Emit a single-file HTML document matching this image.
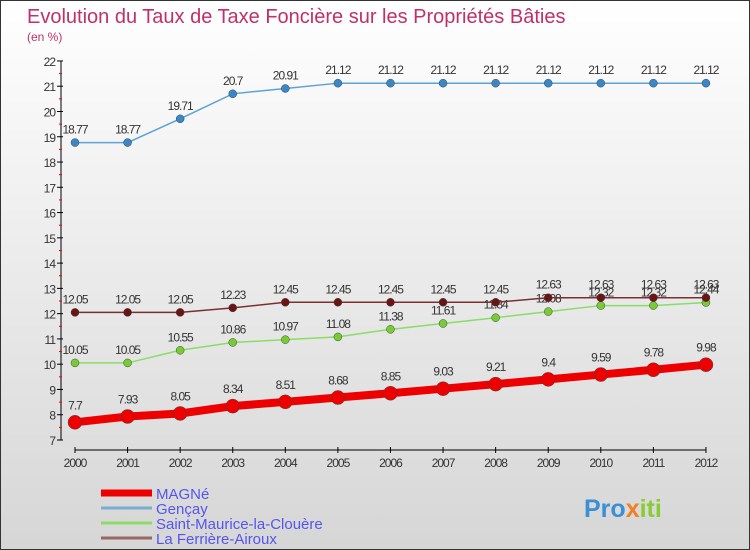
<!DOCTYPE html>
<html><head><meta charset="utf-8"><style>
body{margin:0;}
#c{width:748px;height:548px;border:1px solid #333;background:linear-gradient(#ffffff,#d6d6d6);position:relative;font-family:"Liberation Sans",sans-serif;overflow:hidden}
</style></head><body>
<div id="c">
<svg id="s" width="748" height="548"></svg>
</div>
<script>
const years=[2000,2001,2002,2003,2004,2005,2006,2007,2008,2009,2010,2011,2012];
const magne=[7.7,7.93,8.05,8.34,8.51,8.68,8.85,9.03,9.21,9.4,9.59,9.78,9.98];
const gencay=[18.77,18.77,19.71,20.7,20.91,21.12,21.12,21.12,21.12,21.12,21.12,21.12,21.12];
const stMaurice=[10.05,10.05,10.55,10.86,10.97,11.08,11.38,11.61,11.84,12.08,12.32,12.32,12.44];
const ferriere=[12.05,12.05,12.05,12.23,12.45,12.45,12.45,12.45,12.45,12.63,12.63,12.63,12.63];
const yTicks=[7,8,9,10,11,12,13,14,15,16,17,18,19,20,21,22];
const NS="http://www.w3.org/2000/svg";
const s=document.getElementById('s');
const X=i=>74+i*52.58;
const Y=v=>439-(v-7)*25.27;
function el(t,a,txt,parent){const e=document.createElementNS(NS,t);for(const k in a)e.setAttribute(k,a[k]);if(txt!==undefined)e.textContent=txt;(parent||s).appendChild(e);return e;}
let t=el('text',{x:26,y:22,'font-size':20,fill:'#c0306a'},'Evolution du Taux de Taxe Foncière sur les Propriétés Bâties');


t=el('text',{x:26,y:40,'font-size':12,fill:'#c0306a'},'(en %)');


let a=el('line',{x1:60,y1:Y(22),x2:60,y2:Y(7),stroke:'#000'});


yTicks.forEach(v=>{
 el('line',{x1:56,y1:Y(v),x2:62,y2:Y(v),stroke:'#000'});
 if(v<22) el('line',{x1:58,y1:Y(v+0.5),x2:61,y2:Y(v+0.5),stroke:'#e00'});
 const l=el('text',{x:54,y:Y(v)+5,'font-size':12,fill:'#333','text-anchor':'end','letter-spacing':'-1'},v);
 
 
});
a=el('line',{x1:X(0),y1:449,x2:X(12),y2:449,stroke:'#000'});


years.forEach((y,i)=>{
 el('line',{x1:X(i),y1:446,x2:X(i),y2:452,stroke:'#000'});
 const l=el('text',{x:X(i),y:466,'font-size':12,fill:'#333','text-anchor':'middle','letter-spacing':'-1'},y);
 
 
});
function series(d,color,w,r,name,dot){
 const p=el('polyline',{points:d.map((v,i)=>X(i)+','+Y(v)).join(' '),fill:'none',stroke:color,'stroke-width':w});
 
 
 d.forEach((v,i)=>{
  const c=el('circle',{cx:X(i),cy:Y(v),r:r,fill:dot,stroke:'#444','stroke-width':0.5});
  
  
  const l=el('text',{x:X(i),y:Y(v)-9-(r>5?4:0),'font-size':12,fill:'#333','text-anchor':'middle','letter-spacing':'-1'},String(v));
  
  
 });
}
series(gencay,'#5ba3d6',1.5,4,'gencay','#3a87c8');
series(stMaurice,'#88dd66',1.5,4,'saint-maurice','#77cc33');
series(ferriere,'#7a3030',1.5,4,'la-ferriere','#6b1414');
series(magne,'#ee0000',8,7,'magne','#ee0000');
const leg=[['MAGNé','#ee0000',7],['Gençay','#7aaed0',3],['Saint-Maurice-la-Clouère','#88dd66',3],['La Ferrière-Airoux','#996666',3]];
leg.forEach((g,i)=>{
 const y=492+i*15;
 const l=el('line',{x1:100,y1:y,x2:151,y2:y,stroke:g[1],'stroke-width':g[2]});
 
 
 const tx=el('text',{x:155,y:y+6,'font-size':15,fill:'#5555ee'},g[0]);
 
 
});
const lg=el('text',{x:583,y:516,'font-size':25,'font-weight':'bold',fill:'#3a8fd6'});


el('tspan',{fill:'#3a8fd6'},'Pro',lg);
el('tspan',{fill:'#f08020'},'x',lg);
el('tspan',{fill:'#88cc33'},'iti',lg);
</script>
</body></html>
